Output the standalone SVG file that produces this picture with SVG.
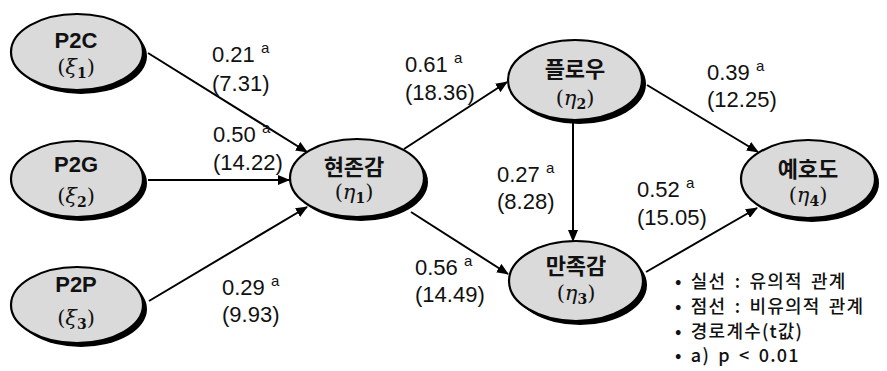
<svg xmlns="http://www.w3.org/2000/svg" width="887" height="371" viewBox="0 0 887 371">
<style>
.sh{fill:#000}
.el{fill:#dadada;stroke:#000;stroke-width:2.2}
.nt{font-family:"Liberation Sans","Noto Sans CJK KR",sans-serif;font-weight:bold;font-size:22px;fill:#111;text-anchor:middle}
.gk{font-family:"DejaVu Serif","Liberation Serif",serif;font-size:21px;fill:#111;text-anchor:middle}
.gk .s{font-size:14px;font-weight:bold}
.lb{font-family:"Liberation Sans",sans-serif;font-size:22px;fill:#111}
.lb .a{font-size:15px}
.lg{font-family:"Noto Sans CJK KR","Noto Sans",sans-serif;font-size:18px;font-weight:500;fill:#111;letter-spacing:1.2px;word-spacing:3px}
.cn line{stroke:#000;stroke-width:2;marker-end:url(#ah)}
</style>
<defs>
<marker id="ah" markerUnits="userSpaceOnUse" markerWidth="12" markerHeight="10" refX="11" refY="5" orient="auto">
<path d="M0,0 L12,5 L0,10 z" fill="#000"/>
</marker>
</defs>
<rect width="887" height="371" fill="#fff"/>
<g id="connectors" class="cn">
<line x1="148" y1="53" x2="307" y2="152"/>
<line x1="148" y1="180" x2="289" y2="180"/>
<line x1="149" y1="301" x2="307" y2="207"/>
<line x1="404" y1="149" x2="507" y2="82"/>
<line x1="411" y1="212" x2="508" y2="274"/>
<line x1="573" y1="121" x2="573" y2="241"/>
<line x1="647" y1="85" x2="758" y2="152"/>
<line x1="646" y1="272" x2="757" y2="208"/>
</g>
<g id="n-p2c">
<ellipse class="sh" cx="81" cy="56" rx="66" ry="38"/>
<ellipse class="el" cx="77" cy="52" rx="66" ry="38"/>
<text class="nt" x="76" y="48">P2C</text>
<text class="gk" x="76" y="74">(<tspan font-style="italic">ξ</tspan><tspan class="s" dy="4">1</tspan><tspan dy="-4">)</tspan></text>
</g>
<g id="n-p2g">
<ellipse class="sh" cx="81" cy="183" rx="66" ry="38"/>
<ellipse class="el" cx="77" cy="179" rx="66" ry="38"/>
<text class="nt" x="76" y="172">P2G</text>
<text class="gk" x="76" y="203">(<tspan font-style="italic">ξ</tspan><tspan class="s" dy="4">2</tspan><tspan dy="-4">)</tspan></text>
</g>
<g id="n-p2p">
<ellipse class="sh" cx="81" cy="309" rx="66" ry="38"/>
<ellipse class="el" cx="77" cy="305" rx="66" ry="38"/>
<text class="nt" x="76" y="292">P2P</text>
<text class="gk" x="76" y="325">(<tspan font-style="italic">ξ</tspan><tspan class="s" dy="4">3</tspan><tspan dy="-4">)</tspan></text>
</g>
<g id="n-presence">
<ellipse class="sh" cx="361" cy="182" rx="67" ry="39"/>
<ellipse class="el" cx="357" cy="178" rx="67" ry="39"/>
<text class="nt" x="354" y="175">현존감</text>
<text class="gk" x="354" y="199">(<tspan font-style="italic">η</tspan><tspan class="s" dy="4">1</tspan><tspan dy="-4">)</tspan></text>
</g>
<g id="n-flow">
<ellipse class="sh" cx="579" cy="84" rx="67" ry="40"/>
<ellipse class="el" cx="575" cy="80" rx="67" ry="40"/>
<text class="nt" x="575" y="77">플로우</text>
<text class="gk" x="575" y="105">(<tspan font-style="italic">η</tspan><tspan class="s" dy="4">2</tspan><tspan dy="-4">)</tspan></text>
</g>
<g id="n-satisfaction">
<ellipse class="sh" cx="580" cy="285" rx="67" ry="40"/>
<ellipse class="el" cx="576" cy="281" rx="67" ry="40"/>
<text class="nt" x="576" y="274">만족감</text>
<text class="gk" x="576" y="300">(<tspan font-style="italic">η</tspan><tspan class="s" dy="4">3</tspan><tspan dy="-4">)</tspan></text>
</g>
<g id="n-preference">
<ellipse class="sh" cx="812" cy="183" rx="67" ry="39"/>
<ellipse class="el" cx="808" cy="179" rx="67" ry="39"/>
<text class="nt" x="808" y="177">예호도</text>
<text class="gk" x="808" y="202">(<tspan font-style="italic">η</tspan><tspan class="s" dy="4">4</tspan><tspan dy="-4">)</tspan></text>
</g>
<g id="labels" class="lb">
<text x="212" y="62">0.21 <tspan class="a" dy="-9">a</tspan></text>
<text x="212" y="91">(7.31)</text>
<text x="213" y="142">0.50 <tspan class="a" dy="-9">a</tspan></text>
<text x="213" y="170">(14.22)</text>
<text x="222" y="295">0.29 <tspan class="a" dy="-9">a</tspan></text>
<text x="222" y="322">(9.93)</text>
<text x="405" y="72">0.61 <tspan class="a" dy="-9">a</tspan></text>
<text x="405" y="100">(18.36)</text>
<text x="497" y="182">0.27 <tspan class="a" dy="-9">a</tspan></text>
<text x="497" y="209">(8.28)</text>
<text x="415" y="275">0.56 <tspan class="a" dy="-9">a</tspan></text>
<text x="415" y="302">(14.49)</text>
<text x="707" y="80">0.39 <tspan class="a" dy="-9">a</tspan></text>
<text x="707" y="107">(12.25)</text>
<text x="637" y="197">0.52 <tspan class="a" dy="-9">a</tspan></text>
<text x="637" y="225">(15.05)</text>
</g>
<g id="legend" class="lg">
<text x="675" y="288">• 실선 : 유의적 관계</text>
<text x="675" y="313">• 점선 : 비유의적 관계</text>
<text x="675" y="338">• 경로계수(t값)</text>
<text x="675" y="362">• a) p &lt; 0.01</text>
</g>
</svg>
